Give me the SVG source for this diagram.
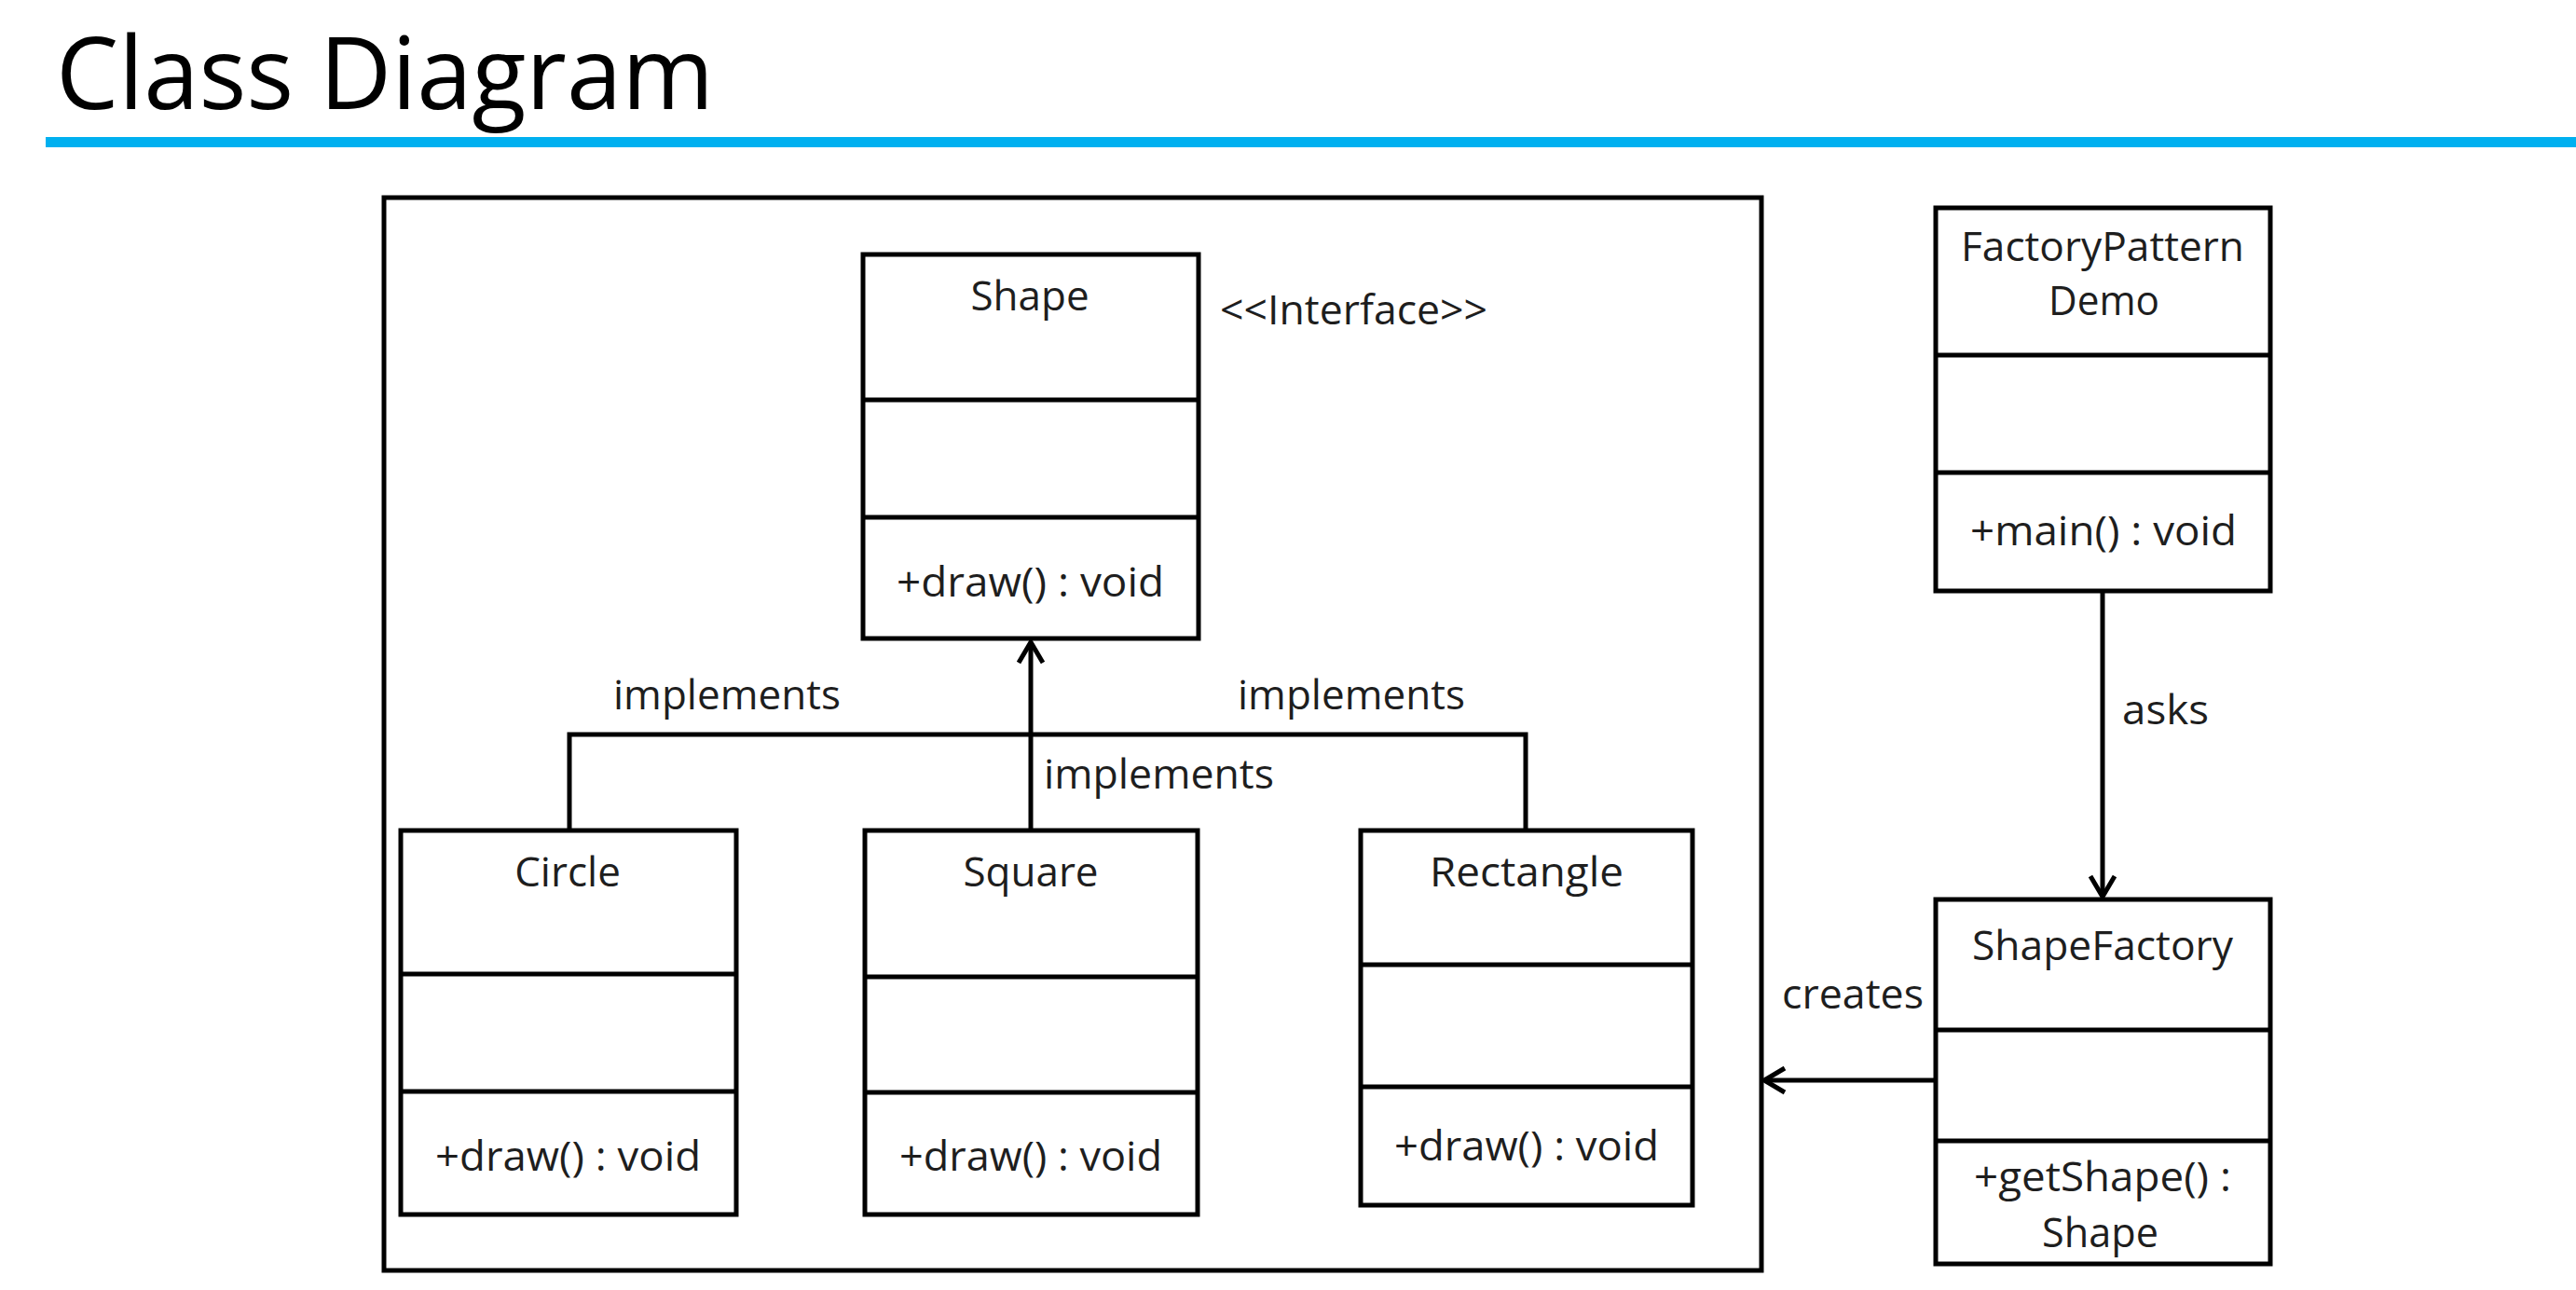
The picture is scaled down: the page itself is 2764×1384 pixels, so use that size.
<svg xmlns="http://www.w3.org/2000/svg" width="2764" height="1384" viewBox="0 0 2764 1384">
<style>
.box{fill:#fff;stroke:#000;stroke-width:5}
.div{stroke:#000;stroke-width:5}
.t{font-family:"Open Sans","Liberation Sans",sans-serif;font-size:44px;fill:#1e1e1e;text-anchor:middle}
.tl{font-family:"Open Sans","Liberation Sans",sans-serif;font-size:44px;fill:#1e1e1e}
.con{fill:none;stroke:#000;stroke-width:5}
</style>
<defs>
<marker id="open" markerUnits="userSpaceOnUse" markerWidth="40" markerHeight="40" viewBox="-30 -20 40 40" refX="0" refY="0" orient="auto">
<path d="M-22,-13 L0,0 L-22,13" fill="none" stroke="#000" stroke-width="5"/>
</marker>
</defs>
<rect width="2764" height="1384" fill="#fff"/>
<g id="title">
<text x="60" y="117" font-family="'Open Sans','Liberation Sans',sans-serif" font-size="108" fill="#000" textLength="706" lengthAdjust="spacingAndGlyphs">Class Diagram</text>
<rect x="49" y="147" width="2715" height="11" fill="#00B0F0"/>
</g>
<g id="frame">
<rect x="412" y="212" width="1478" height="1151" fill="none" stroke="#000" stroke-width="5"/>
</g>
<g id="connectors">
<path class="con" d="M611,891 V788 H1637 V891"/>
<path class="con" d="M1106,891 V689" marker-end="url(#open)"/>
<path class="con" d="M2256,634 V962" marker-end="url(#open)"/>
<path class="con" d="M2077,1159 H1893" marker-end="url(#open)"/>
<text class="tl" x="658" y="761" textLength="244" lengthAdjust="spacingAndGlyphs">implements</text>
<text class="tl" x="1328" y="761" textLength="244" lengthAdjust="spacingAndGlyphs">implements</text>
<text class="tl" x="1120" y="846" textLength="247" lengthAdjust="spacingAndGlyphs">implements</text>
<text class="tl" x="2277" y="777" textLength="93" lengthAdjust="spacingAndGlyphs">asks</text>
<text class="tl" x="1912" y="1082" textLength="152" lengthAdjust="spacingAndGlyphs">creates</text>
</g>
<g id="Shape">
<rect class="box" x="926" y="273" width="360" height="412"/>
<line class="div" x1="926" y1="429" x2="1286" y2="429"/>
<line class="div" x1="926" y1="555" x2="1286" y2="555"/>
<text class="t" x="1105" y="333">Shape</text>
<text class="tl" x="1309" y="348" textLength="287" lengthAdjust="spacingAndGlyphs">&lt;&lt;Interface&gt;&gt;</text>
<text class="tl" x="962" y="640" textLength="287" lengthAdjust="spacingAndGlyphs">+draw() : void</text>
</g>
<g id="Circle">
<rect class="box" x="430" y="891" width="360" height="412"/>
<line class="div" x1="430" y1="1045" x2="790" y2="1045"/>
<line class="div" x1="430" y1="1171" x2="790" y2="1171"/>
<text class="t" x="609" y="951">Circle</text>
<text class="tl" x="467" y="1256" textLength="285" lengthAdjust="spacingAndGlyphs">+draw() : void</text>
</g>
<g id="Square">
<rect class="box" x="928" y="891" width="357" height="412"/>
<line class="div" x1="928" y1="1048" x2="1285" y2="1048"/>
<line class="div" x1="928" y1="1172" x2="1285" y2="1172"/>
<text class="t" x="1106" y="951">Square</text>
<text class="tl" x="965" y="1256" textLength="282" lengthAdjust="spacingAndGlyphs">+draw() : void</text>
</g>
<g id="Rectangle">
<rect class="box" x="1460" y="891" width="356" height="402"/>
<line class="div" x1="1460" y1="1035" x2="1816" y2="1035"/>
<line class="div" x1="1460" y1="1166" x2="1816" y2="1166"/>
<text class="tl" x="1534" y="951" textLength="208" lengthAdjust="spacingAndGlyphs">Rectangle</text>
<text class="tl" x="1496" y="1245" textLength="284" lengthAdjust="spacingAndGlyphs">+draw() : void</text>
</g>
<g id="FactoryPatternDemo">
<rect class="box" x="2077" y="223" width="359" height="411"/>
<line class="div" x1="2077" y1="381" x2="2436" y2="381"/>
<line class="div" x1="2077" y1="507" x2="2436" y2="507"/>
<text class="tl" x="2104" y="280" textLength="304" lengthAdjust="spacingAndGlyphs">FactoryPattern</text>
<text class="tl" x="2198" y="338" textLength="119" lengthAdjust="spacingAndGlyphs">Demo</text>
<text class="tl" x="2114" y="585" textLength="286" lengthAdjust="spacingAndGlyphs">+main() : void</text>
</g>
<g id="ShapeFactory">
<rect class="box" x="2077" y="965" width="359" height="391"/>
<line class="div" x1="2077" y1="1105" x2="2436" y2="1105"/>
<line class="div" x1="2077" y1="1224" x2="2436" y2="1224"/>
<text class="tl" x="2116" y="1030" textLength="280" lengthAdjust="spacingAndGlyphs">ShapeFactory</text>
<text class="tl" x="2118" y="1278" textLength="276" lengthAdjust="spacingAndGlyphs">+getShape() :</text>
<text class="tl" x="2191" y="1338" textLength="125" lengthAdjust="spacingAndGlyphs">Shape</text>
</g>
</svg>
